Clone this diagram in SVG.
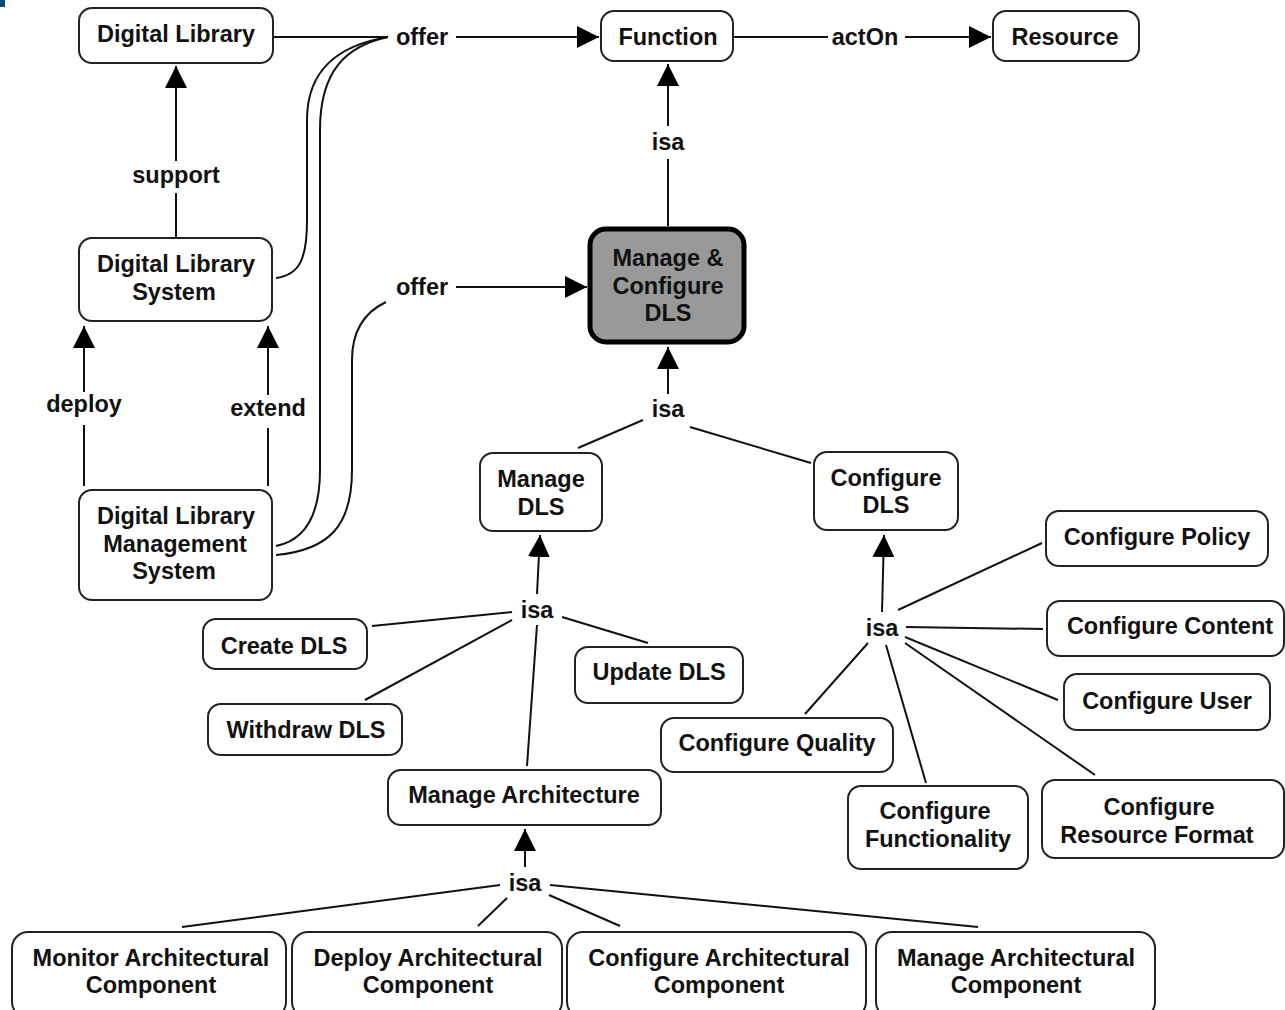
<svg xmlns="http://www.w3.org/2000/svg" width="1285" height="1010" viewBox="0 0 1285 1010">
<style>
  .n rect { fill: #fff; stroke: #222; stroke-width: 2; }
  .n text, .lbl { font-family: "Liberation Sans", Arial, sans-serif; font-weight: bold; font-size: 23.5px; fill: #111; text-anchor: middle; }
  .c { fill: none; stroke: #111; stroke-width: 2; }
  .a { marker-end: url(#ah); }
</style>
<defs>
  <marker id="ah" markerUnits="userSpaceOnUse" markerWidth="24" markerHeight="22" refX="22" refY="11" orient="auto">
    <path d="M0,0 L22,11 L0,22 Z" fill="#000"/>
  </marker>
</defs>
<rect width="1285" height="1010" fill="#fff"/>
<rect x="0" y="0" width="5" height="7" fill="#0d4a6e"/>

<g id="connectors">
  <!-- offer 1 -->
  <path class="c" d="M274,37 L388,37"/>
  <path class="c" d="M276,278 C300,275 307,258 307,220 L307,120 C307,68 340,45 388,37"/>
  <path class="c" d="M276,546 C306,540 320,515 320,470 L320,130 C320,72 345,46 388,37"/>
  <path class="c a" d="M456,37 L599,37"/>
  <!-- offer 2 -->
  <path class="c" d="M276,555 C330,550 352,525 352,470 L352,360 C352,330 365,312 386,302"/>
  <path class="c a" d="M456,287 L587,287"/>
  <!-- actOn -->
  <path class="c" d="M734,37 L828,37"/>
  <path class="c a" d="M905,37 L991,37"/>
  <!-- support -->
  <path class="c" d="M176,238 L176,193"/>
  <path class="c a" d="M176,161 L176,66"/>
  <!-- deploy -->
  <path class="c" d="M84,486 L84,425"/>
  <path class="c a" d="M84,392 L84,326"/>
  <!-- extend -->
  <path class="c" d="M268,486 L268,428"/>
  <path class="c a" d="M268,395 L268,326"/>
  <!-- isa Function -->
  <path class="c" d="M668,226 L668,159"/>
  <path class="c a" d="M668,126 L668,64"/>
  <!-- isa Manage & Configure -->
  <path class="c a" d="M668,394 L668,347"/>
  <path class="c" d="M643,420 L578,448"/>
  <path class="c" d="M690,427 L811,463"/>
  <!-- isa Manage DLS -->
  <path class="c a" d="M537,594 L540,535"/>
  <path class="c" d="M512,612 L372,626"/>
  <path class="c" d="M512,620 L365,700"/>
  <path class="c" d="M562,617 L648,643"/>
  <path class="c" d="M537,625 L527,766"/>
  <!-- isa Configure DLS -->
  <path class="c a" d="M882,612 L884,535"/>
  <path class="c" d="M898,610 L1042,543"/>
  <path class="c" d="M906,627 L1043,629"/>
  <path class="c" d="M905,637 L1058,700"/>
  <path class="c" d="M905,643 L1095,775"/>
  <path class="c" d="M886,645 L926,783"/>
  <path class="c" d="M868,643 L805,714"/>
  <!-- isa Manage Architecture -->
  <path class="c a" d="M525,867 L525,829"/>
  <path class="c" d="M500,885 L182,927"/>
  <path class="c" d="M507,898 L478,926"/>
  <path class="c" d="M549,895 L620,926"/>
  <path class="c" d="M550,885 L978,927"/>
</g>

<g id="labels">
  <text class="lbl" x="422" y="45">offer</text>
  <text class="lbl" x="422" y="295">offer</text>
  <text class="lbl" x="865" y="45">actOn</text>
  <text class="lbl" x="176" y="183">support</text>
  <text class="lbl" x="84" y="412">deploy</text>
  <text class="lbl" x="268" y="416">extend</text>
  <text class="lbl" x="668" y="150">isa</text>
  <text class="lbl" x="668" y="417">isa</text>
  <text class="lbl" x="537" y="618">isa</text>
  <text class="lbl" x="882" y="636">isa</text>
  <text class="lbl" x="525" y="891">isa</text>
</g>

<g id="digital-library" class="n"><rect x="79" y="8" width="194" height="55" rx="13"/><text x="176" y="42">Digital Library</text></g>
<g id="function" class="n"><rect x="601" y="11" width="132" height="50" rx="13"/><text x="668" y="45">Function</text></g>
<g id="resource" class="n"><rect x="993" y="11" width="146" height="50" rx="13"/><text x="1065" y="45">Resource</text></g>
<g id="digital-library-system" class="n"><rect x="79" y="238" width="193" height="83" rx="13"/><text x="176" y="272">Digital Library</text><text x="174" y="300">System</text></g>
<g id="manage-configure-dls" class="n"><rect x="590" y="229" width="154" height="113" rx="16" style="fill:#999;stroke:#000;stroke-width:5"/><text x="668" y="266">Manage &amp;</text><text x="668" y="294">Configure</text><text x="668" y="321">DLS</text></g>
<g id="dl-management-system" class="n"><rect x="79" y="490" width="193" height="110" rx="13"/><text x="176" y="524">Digital Library</text><text x="175" y="552">Management</text><text x="174" y="579">System</text></g>
<g id="manage-dls" class="n"><rect x="480" y="453" width="122" height="78" rx="13"/><text x="541" y="487">Manage</text><text x="541" y="515">DLS</text></g>
<g id="configure-dls" class="n"><rect x="814" y="452" width="144" height="78" rx="13"/><text x="886" y="486">Configure</text><text x="886" y="513">DLS</text></g>
<g id="configure-policy" class="n"><rect x="1046" y="511" width="222" height="55" rx="13"/><text x="1157" y="545">Configure Policy</text></g>
<g id="configure-content" class="n"><rect x="1047" y="601" width="237" height="55" rx="13"/><text x="1170" y="634">Configure Content</text></g>
<g id="configure-user" class="n"><rect x="1064" y="674" width="206" height="56" rx="13"/><text x="1167" y="709">Configure User</text></g>
<g id="configure-quality" class="n"><rect x="661" y="718" width="232" height="54" rx="13"/><text x="777" y="751">Configure Quality</text></g>
<g id="configure-functionality" class="n"><rect x="848" y="786" width="180" height="83" rx="13"/><text x="935" y="819">Configure</text><text x="938" y="847">Functionality</text></g>
<g id="configure-resource-format" class="n"><rect x="1042" y="780" width="242" height="78" rx="13"/><text x="1159" y="815">Configure</text><text x="1157" y="843">Resource Format</text></g>
<g id="create-dls" class="n"><rect x="203" y="619" width="164" height="50" rx="13"/><text x="284" y="654">Create DLS</text></g>
<g id="update-dls" class="n"><rect x="575" y="647" width="168" height="56" rx="13"/><text x="659" y="680">Update DLS</text></g>
<g id="withdraw-dls" class="n"><rect x="208" y="704" width="194" height="51" rx="13"/><text x="306" y="738">Withdraw DLS</text></g>
<g id="manage-architecture" class="n"><rect x="388" y="770" width="273" height="55" rx="13"/><text x="524" y="803">Manage Architecture</text></g>
<g id="monitor-arch-comp" class="n"><rect x="12" y="932" width="274" height="86" rx="16"/><text x="151" y="966">Monitor Architectural</text><text x="151" y="993">Component</text></g>
<g id="deploy-arch-comp" class="n"><rect x="292" y="932" width="270" height="86" rx="16"/><text x="428" y="966">Deploy Architectural</text><text x="428" y="993">Component</text></g>
<g id="configure-arch-comp" class="n"><rect x="567" y="932" width="299" height="86" rx="16"/><text x="719" y="966">Configure Architectural</text><text x="719" y="993">Component</text></g>
<g id="manage-arch-comp" class="n"><rect x="876" y="932" width="279" height="86" rx="16"/><text x="1016" y="966">Manage Architectural</text><text x="1016" y="993">Component</text></g>
</svg>
